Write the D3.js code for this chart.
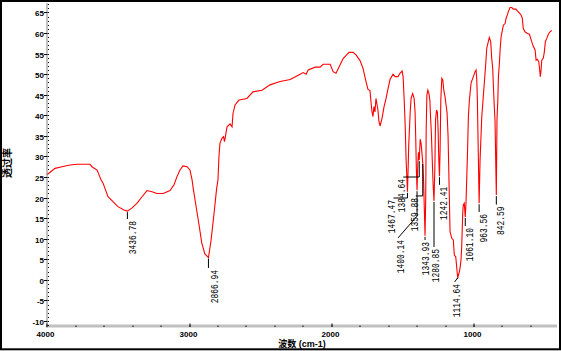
<!DOCTYPE html>
<html>
<head>
<meta charset="utf-8">
<script src="https://cdn.jsdelivr.net/npm/d3@7"></script>
<style>
	body { margin: 0; background: #fff; }
	svg { display: block; }
</style>
</head>
<body>
<svg id="chart" width="561" height="351"></svg>
<script>

// Spectrum: wavenumber (cm-1) and transmittance (%).
var wavenumber = [
	4000, 3946, 3897, 3840, 3791, 3700, 3686, 3650, 3622, 3608, 3573, 3538, 3503, 3461, 3436.78,
	3404, 3370, 3334, 3299, 3264, 3229, 3186, 3137, 3109, 3088, 3067, 3046, 3017, 2997, 2982,
	2973, 2961, 2931, 2914, 2892, 2866.94, 2849, 2828, 2810, 2800, 2793, 2786, 2772, 2761, 2754,
	2747, 2736, 2715, 2701, 2694, 2680, 2652, 2596, 2554, 2490, 2434, 2363, 2292, 2222, 2201,
	2180, 2166, 2116, 2082, 2060, 2011, 1990, 1970, 1941, 1920, 1892, 1878, 1850, 1829, 1801,
	1780, 1759, 1745, 1731, 1724, 1717, 1710, 1703, 1696, 1689, 1675, 1668, 1660, 1646, 1632,
	1618, 1604, 1590, 1569, 1555, 1534, 1520, 1505, 1498, 1491, 1484, 1477, 1467.47, 1462, 1459,
	1448, 1442, 1431, 1421, 1414, 1409, 1405, 1400.14, 1395, 1390, 1384.64, 1378, 1371, 1359.88, 1354,
	1348, 1343.93, 1339, 1336, 1331, 1324, 1317, 1310, 1305, 1299, 1293, 1287, 1280.85, 1275, 1270,
	1263, 1257, 1252, 1247, 1242.41, 1238, 1233, 1226, 1219, 1212, 1203, 1196, 1189, 1182, 1173,
	1168, 1156, 1145, 1138, 1128, 1121, 1114.64, 1105, 1098, 1091, 1086, 1079, 1075, 1068, 1061.10,
	1056, 1051, 1046, 1039, 1032, 1020, 1004, 992, 985, 980, 976, 971, 963.56, 957, 945,
	927, 917, 910, 899, 892, 882, 875, 868, 864, 857, 852, 842.59, 838, 832, 828,
	821, 816, 809, 800, 793, 781, 774, 765, 758, 746, 734, 723, 704, 695, 681,
	669, 660, 653, 641, 624, 610, 601, 594, 582, 570, 563, 554, 544, 540, 533,
	528, 523, 512, 505, 498, 488, 477, 465, 453
];
var transmittance = [
	25.6, 27.1, 27.5, 27.9, 28.1, 28.1, 27.5, 26.7, 24.3, 23.5, 20.2, 19.0, 17.8, 17.0, 16.7,
	17.5, 18.6, 20.2, 21.7, 21.4, 21.0, 21.0, 21.7, 23.1, 25.1, 26.7, 27.7, 27.5, 26.7, 24.3,
	22.0, 19.4, 12.9, 9.0, 6.3, 5.4, 9.5, 16.0, 22.0, 24.3, 30.0, 33.2, 34.4, 34.8, 33.6,
	35.0, 37.2, 37.9, 37.2, 40.5, 42.5, 43.7, 44.1, 45.7, 46.1, 47.4, 48.2, 48.7, 50.0, 50.4,
	50.0, 51.0, 51.7, 51.7, 52.4, 52.4, 50.6, 50.2, 52.3, 53.8, 54.8, 55.3, 55.3, 54.7, 53.3,
	51.4, 48.2, 46.3, 46.0, 43.3, 40.9, 39.7, 42.1, 40.8, 44.1, 41.3, 38.5, 37.4, 39.3, 42.1,
	44.1, 46.5, 48.7, 50.0, 49.4, 49.4, 50.2, 50.8, 49.4, 44.1, 38.1, 29.2, 21.4, 28.0, 32.4,
	40.9, 44.1, 45.3, 44.2, 40.8, 34.0, 27.0, 21.8, 28.0, 31.0, 29.1, 34.2, 33.0, 28.4, 24.0,
	16.0, 10.7, 20.0, 36.0, 44.9, 46.1, 45.4, 43.7, 39.6, 35.2, 29.0, 23.0, 19.2, 27.0, 38.9,
	41.3, 40.8, 36.4, 29.0, 25.2, 31.6, 43.7, 49.0, 48.6, 46.1, 44.4, 42.5, 40.6, 35.0, 20.0,
	11.7, 10.1, 9.7, 6.0, 5.6, 3.0, 0.5, 1.6, 2.8, 4.8, 8.1, 16.2, 18.2, 18.6, 15.3,
	18.6, 24.3, 30.0, 39.7, 43.7, 47.9, 49.4, 50.6, 51.0, 48.6, 43.7, 34.0, 18.6, 29.1, 39.6,
	47.9, 52.6, 56.3, 57.9, 58.9, 57.9, 53.8, 51.4, 47.8, 42.1, 38.9, 20.6, 38.9, 43.7, 49.4,
	52.6, 55.9, 59.1, 60.7, 61.9, 62.3, 63.6, 64.4, 65.2, 66.2, 66.2, 65.8, 65.8, 65.4, 64.9,
	64.4, 63.6, 61.1, 60.3, 59.9, 59.7, 58.7, 57.9, 56.7, 55.9, 53.4, 53.6, 53.0, 51.8, 49.4,
	51.0, 53.4, 53.9, 55.4, 57.9, 58.7, 59.7, 60.3, 60.6
];

// Labelled peaks.
var peakWavenumber = [3436.78, 2866.94, 1467.47, 1400.14, 1384.64, 1359.88, 1343.93, 1280.85, 1242.41, 1114.64, 1061.10, 963.56, 842.59];
var peakTransmittance = [16.7, 5.4, 21.4, 21.8, 29.1, 28.4, 10.7, 19.2, 25.2, 0.5, 15.3, 18.6, 20.6];
var peakLabels = ['3436.78', '2866.94', '1467.47', '1400.14', '1384.64', '1359.88', '1343.93', '1280.85', '1242.41', '1114.64', '1061.10', '963.56', '842.59'];

// Axis ticks.
var xTickValues = [4000, 3000, 2000, 1000];
var xTickLabels = ['4000', '3000', '2000', '1000'];
var yTickValues = [-10, -5, 0, 5, 10, 15, 20, 25, 30, 35, 40, 45, 50, 55, 60, 65];
var yTickLabels = ['-10', '-5', '0', '5', '10', '15', '20', '25', '30', '35', '40', '45', '50', '55', '60', '65'];

// Where each peak label sits: text offset (px), text top / leader knee (in %T), leader end offset (px).
var labelLayout = [
	{ tx: 4.5, top: 14.3, knee: 14.3, ex: 0 },
	{ tx: 6, top: 2.4, knee: 2.4, ex: 0 },
	{ tx: -16, top: 19.4, knee: 19.9, ex: -14 },
	{ tx: -17, top: 9.7, knee: 15.5, ex: -19 },
	{ tx: -17.5, top: 24.5, knee: 25.0, ex: -16 },
	{ tx: -8.5, top: 19.9, knee: 20.4, ex: -7 },
	{ tx: 0.5, top: 9.2, knee: 9.2, ex: 0 },
	{ tx: 1.5, top: 7.5, knee: 7.5, ex: 0 },
	{ tx: 3.5, top: 22.6, knee: 22.6, ex: 0 },
	{ tx: -1, top: -1.0, knee: 0.5, ex: -3 },
	{ tx: 4.3, top: 12.6, knee: 12.6, ex: 0 },
	{ tx: 4.4, top: 16.0, knee: 16.0, ex: 0 },
	{ tx: 3.7, top: 17.8, knee: 17.8, ex: 0 }
];


var svg = d3.select( '#chart' );

var x = d3.scaleLinear().domain( [ 4000, 416 ] ).range( [ 47.3, 557 ] );
var y = d3.scaleLinear().domain( [ -11.2, 67.3 ] ).range( [ 325.9, 3 ] );

var tickFont = '"Liberation Sans", Arial, sans-serif';

// Outer frame.
svg.append( 'rect' )
	.attr( 'x', 1 ).attr( 'y', 1 )
	.attr( 'width', 559 ).attr( 'height', 348.3 )
	.attr( 'fill', 'none' )
	.attr( 'stroke', '#000' )
	.attr( 'stroke-width', 2 );

// Grey axis bars.
svg.append( 'rect' )
	.attr( 'x', 46 ).attr( 'y', y.range()[1] )
	.attr( 'width', 2 ).attr( 'height', 327.5 - y.range()[1] )
	.attr( 'fill', '#c0c0c0' );

svg.append( 'rect' )
	.attr( 'x', 46 ).attr( 'y', 324.5 )
	.attr( 'width', x.range()[1] - 46 ).attr( 'height', 3 )
	.attr( 'fill', '#c0c0c0' );

// Minor ticks: dots.
svg.append( 'g' ).selectAll( 'rect' )
	.data( d3.range( -11, 68, 1 ) )
	.enter()
	.append( 'rect' )
	.attr( 'x', 48 )
	.attr( 'y', function ( d ) { return Math.round( y( d ) ); } )
	.attr( 'width', 1 ).attr( 'height', 1 )
	.attr( 'fill', '#000' );

svg.append( 'g' ).selectAll( 'rect' )
	.data( d3.range( 4000, 599, -200 ) )
	.enter()
	.append( 'rect' )
	.attr( 'x', function ( d ) { return Math.round( x( d ) ) - 0.5; } )
	.attr( 'y', 325.5 )
	.attr( 'width', 1 ).attr( 'height', 1.5 )
	.attr( 'fill', '#000' );

// Major ticks and labels, y.
var yTicks = svg.append( 'g' ).selectAll( 'g' )
	.data( yTickValues )
	.enter()
	.append( 'g' )
	.attr( 'transform', function ( d ) { return 'translate(0,' + Math.round( y( d ) ) + ')'; } );

yTicks.append( 'rect' )
	.attr( 'x', 44 ).attr( 'y', 0 )
	.attr( 'width', 3.5 ).attr( 'height', 1 )
	.attr( 'fill', '#000' );

yTicks.append( 'text' )
	.attr( 'x', 44 )
	.attr( 'y', 3.5 )
	.attr( 'text-anchor', 'end' )
	.style( 'font', 'bold 8px ' + tickFont )
	.text( function ( d, i ) { return yTickLabels[i]; } );

// Major ticks and labels, x.
var xTicks = svg.append( 'g' ).selectAll( 'g' )
	.data( xTickValues )
	.enter()
	.append( 'g' )
	.attr( 'transform', function ( d ) { return 'translate(' + Math.round( x( d ) ) + ',0)'; } );

xTicks.append( 'rect' )
	.attr( 'x', -0.5 ).attr( 'y', 323.5 )
	.attr( 'width', 1 ).attr( 'height', 3 )
	.attr( 'fill', '#000' );

xTicks.append( 'text' )
	.attr( 'x', -1.5 )
	.attr( 'y', 337 )
	.attr( 'text-anchor', 'middle' )
	.style( 'font', 'bold 8px ' + tickFont )
	.text( function ( d, i ) { return xTickLabels[i]; } );

// Axis titles.
svg.append( 'text' )
	.attr( 'transform', 'translate(7.5,163) rotate(-90)' )
	.attr( 'text-anchor', 'middle' )
	.attr( 'dy', '0.36em' )
	.style( 'font', 'bold 10px "Noto Sans CJK SC", sans-serif' )
	.text( '透过率' );

svg.append( 'text' )
	.attr( 'x', 302 )
	.attr( 'y', 347 )
	.attr( 'text-anchor', 'middle' )
	.style( 'font', 'bold 9px ' + tickFont + ', "Noto Sans CJK SC"' )
	.text( '波数 (cm-1)' );

// The spectrum.
var spectrum = d3.zip( wavenumber, transmittance );

var line = d3.line()
	.x( function ( d ) { return x( d[0] ); } )
	.y( function ( d ) { return y( d[1] ); } );

svg.append( 'path' )
	.datum( spectrum )
	.attr( 'd', line )
	.attr( 'fill', 'none' )
	.attr( 'stroke', '#ff0000' )
	.attr( 'stroke-width', 1.1 )
	.attr( 'stroke-linejoin', 'miter' );

// Peak leaders and labels.
var peaks = peakWavenumber.map( function ( wn, i ) {
	return { wn: wn, t: peakTransmittance[i], label: peakLabels[i], layout: labelLayout[i] };
} );

var peakGroups = svg.append( 'g' ).selectAll( 'g' )
	.data( peaks )
	.enter()
	.append( 'g' );

peakGroups.append( 'path' )
	.attr( 'd', function ( d ) {
		var px = x( d.wn );
		var py = y( d.t );
		var ky = y( d.layout.knee );
		var ey = y( d.layout.top ) - 2;
		return d3.line()( [ [ px, py + 1 ], [ px, Math.min( ky, ey ) ], [ px + d.layout.ex, ey ] ] );
	} )
	.attr( 'fill', 'none' )
	.attr( 'stroke', '#000' )
	.attr( 'stroke-width', 1 );

peakGroups.append( 'text' )
	.attr( 'transform', function ( d ) {
		return 'translate(' + ( x( d.wn ) + d.layout.tx ) + ',' + y( d.layout.top ) + ') rotate(-90)';
	} )
	.attr( 'text-anchor', 'end' )
	.attr( 'dy', '0.36em' )
	.attr( 'textLength', function ( d ) { return d.label.length * 4.75; } )
	.attr( 'lengthAdjust', 'spacingAndGlyphs' )
	.style( 'font', '10px "Liberation Mono", "DejaVu Sans Mono", monospace' )
	.text( function ( d ) { return d.label; } );

</script>
</body>
</html>
